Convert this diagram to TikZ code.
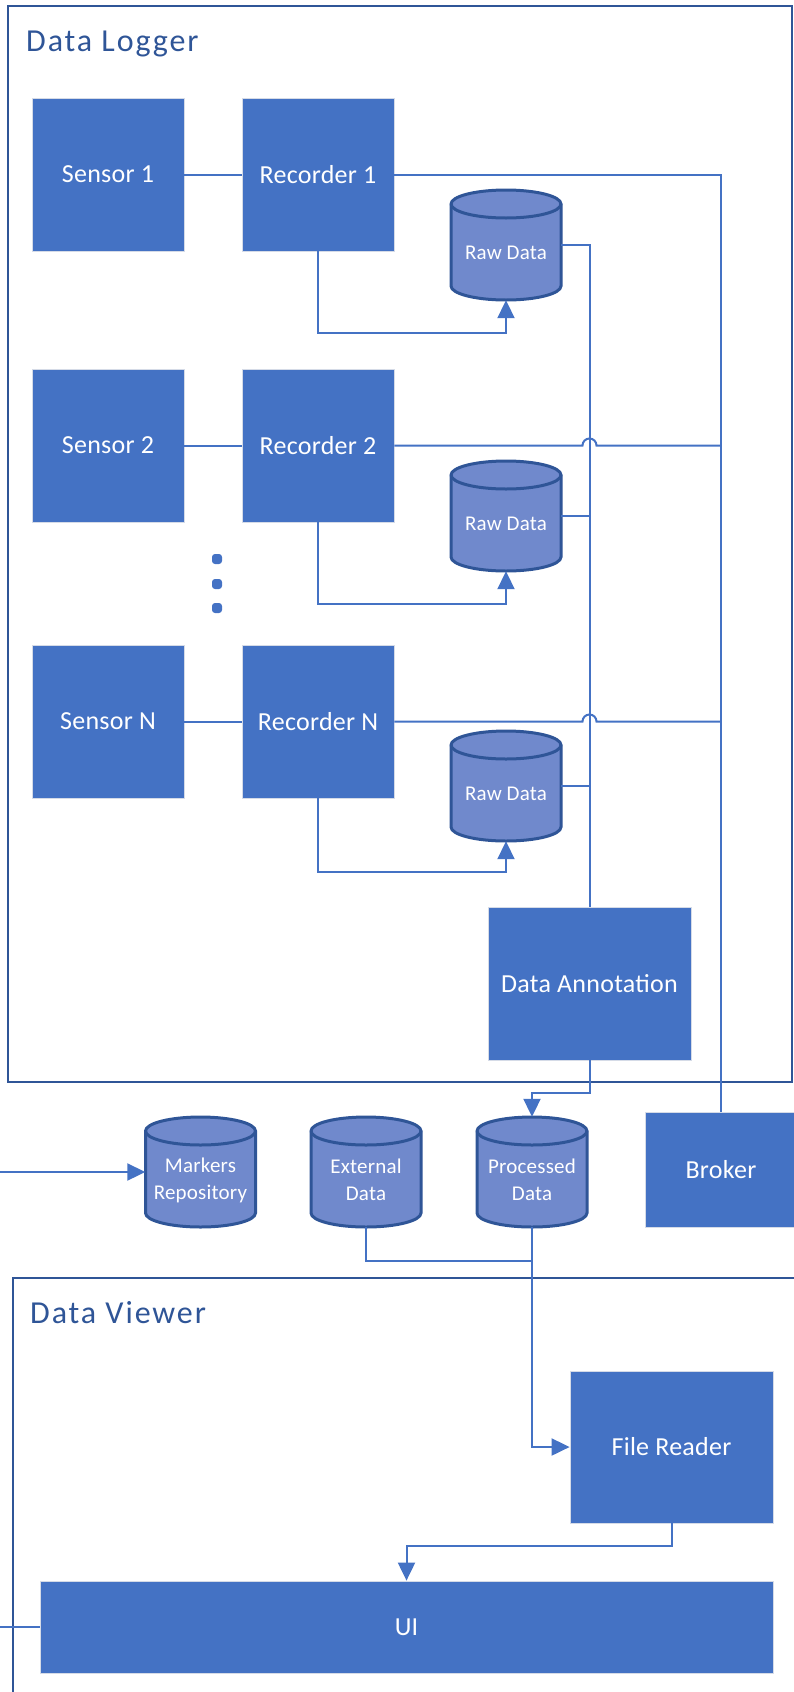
\documentclass[tikz,border=0pt]{standalone}
\usepackage{fontspec}
\setmainfont[LetterSpace=1]{Carlito}
\newfontfamily\titlefont[LetterSpace=6]{Carlito}
\usetikzlibrary{arrows.meta}

\definecolor{boxblue}{HTML}{4472C4}
\definecolor{darkblue}{HTML}{2F5597}
\definecolor{storeblue}{HTML}{7089CC}
\definecolor{edgegrey}{HTML}{D5DBE7}

\tikzset{
  unitbox/.style={draw=edgegrey, line width=0.8pt, fill=boxblue, text=white,
    inner sep=0pt, font=\fontsize{26}{31}\selectfont,
    minimum width=152pt, minimum height=153pt},
  storebox/.style={inner sep=0pt, minimum width=110pt, minimum height=110pt},
  storetext/.style={text=white, align=center, inner sep=0pt,
    font=\fontsize{21}{27}\selectfont},
  storebody/.style={fill=storeblue, draw=darkblue, line width=3pt},
  frame/.style={draw=darkblue, line width=2pt},
  frametitle/.style={text=darkblue, inner sep=0pt, anchor=base west,
    font=\titlefont\fontsize{32}{37}\selectfont},
  link/.style={draw=boxblue, line width=2pt},
  flow/.style={link, -{Triangle[length=18pt, width=17pt]}},
  dot/.style={fill=boxblue, rounded corners=3pt},
}

% database cylinder: node name, centre x, centre y, label
\newcommand\storage[4]{%
  \node[storebox] (#1) at (#2,#3) {};
  \path[storebody, shift={(#1.center)}] (-55,-41) -- (-55,41)
     arc[start angle=180, end angle=0, x radius=55, y radius=14]
     -- (55,-41)
     arc[start angle=0, end angle=-180, x radius=55, y radius=14] -- cycle;
  \draw[storebody, fill=none, shift={(#1.center)}] (-55,-41)
     arc[start angle=180, end angle=0, x radius=55, y radius=14];
  \node[storetext] (#1-text) at ([yshift=-8pt]#1.center) {#4};
}

\begin{document}
\begin{tikzpicture}[x=1pt, y=-1pt]
\useasboundingbox (0,0) rectangle (794,1692);
\clip (0,0) rectangle (794,1692);

% containers
\draw[frame] (8,6) rectangle (792,1082);
\node[frametitle] (loggertitle) at (26,51) {Data Logger};
\draw[frame] (13,1278) rectangle (830,1730);
\node[frametitle] (viewertitle) at (30,1323) {Data Viewer};

% sensors and recorders
\node[unitbox] (s1) at (108,174.5) {Sensor 1};
\node[unitbox] (r1) at (318,174.5) {Recorder 1};
\node[unitbox] (s2) at (108,445.5) {Sensor 2};
\node[unitbox] (r2) at (318,445.5) {Recorder 2};
\node[unitbox] (sn) at (108,721.5) {Sensor N};
\node[unitbox] (rn) at (318,721.5) {Recorder N};

% ellipsis between rows
\fill[dot] (212,554) rectangle (222,564);
\fill[dot] (212,579) rectangle (222,589);
\fill[dot] (212,603) rectangle (222,613);

% raw data stores
\storage{rd1}{506}{245}{Raw Data}
\storage{rd2}{506}{516}{Raw Data}
\storage{rd3}{506}{786}{Raw Data}

\node[unitbox, minimum width=203pt] (ann) at (589.5,983.5) {Data Annotation};
\node[unitbox, minimum height=115pt] (broker) at (721,1169.5) {Broker};

% shared stores
\storage{mk}{200.5}{1172}{Markers\\Repository}
\storage{ext}{366}{1172}{External\\Data}
\storage{pd}{532}{1172}{Processed\\Data}

% viewer
\node[unitbox, minimum width=203pt, minimum height=152pt] (fr) at (671.5,1447) {File Reader};
\node[unitbox, minimum width=733pt, minimum height=92pt] (ui) at (406.5,1627) {UI};

\coordinate (mkin) at (0,1172);
\coordinate (uiout) at (0,1627);

% sensor to recorder
\draw[link] (s1) -- (r1);
\draw[link] (s2) -- (r2);
\draw[link] (sn) -- (rn);

% recorder to raw data
\draw[flow] (r1.south) |- ([yshift=-33pt]rd1.south) -- (rd1.south);
\draw[flow] (r2.south) |- ([yshift=-33pt]rd2.south) -- (rd2.south);
\draw[flow] (rn.south) |- ([yshift=-31pt]rd3.south) -- (rd3.south);

% raw data to annotation
\draw[link] (rd1.east) -| (ann.north);
\draw[link] (rd2.east) -- (rd2.east -| ann.north);
\draw[link] (rd3.east) -- (rd3.east -| ann.north);

% recorders to broker, hopping over the annotation feed
\draw[link] (r1.east) -| (broker.north);
\draw[link] (r2.east) -- ([xshift=-7pt]r2.east -| ann.north)
   arc[start angle=180, end angle=360, radius=7] -- (r2.east -| broker.north);
\draw[link] (rn.east) -- ([xshift=-7pt]rn.east -| ann.north)
   arc[start angle=180, end angle=360, radius=7] -- (rn.east -| broker.north);

% annotation output
\draw[flow] (ann.south) -- ++(0,33) -| (pd.north);

% data into the viewer
\draw[link] (ext.south) |- ([yshift=-34pt]pd.south);
\draw[flow] (pd.south) |- (fr.west);
\draw[flow] (fr.south) -- ++(0,23) -| (ui.north);

% markers loop
\draw[flow] (mkin) -- (mk.west);
\draw[link] (ui.west) -- (uiout);
\end{tikzpicture}
\end{document}
